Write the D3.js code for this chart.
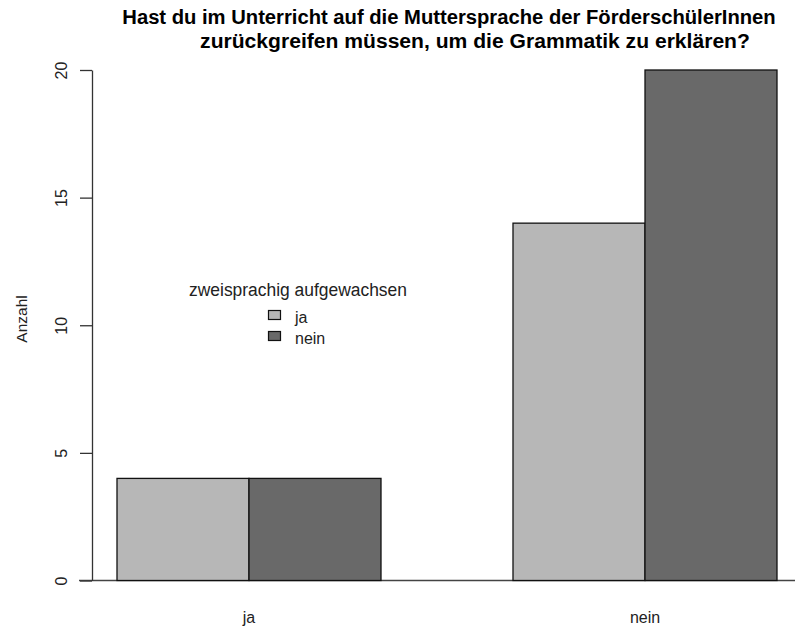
<!DOCTYPE html>
<html><head><meta charset="utf-8">
<script src="https://cdn.jsdelivr.net/npm/d3@7"></script>
<style>body{margin:0;background:#fff}svg{display:block}text{font-family:"Liberation Sans",Arial,sans-serif}</style>
</head><body>
<svg id="chart" width="795" height="631"></svg>
<script>
const categories = ["ja", "nein"];
const seriesNames = ["ja", "nein"];
const seriesColors = ["#b7b7b7", "#696969"];
const valuesJa = [4, 14];    // zweisprachig aufgewachsen: ja
const valuesNein = [4, 20];  // zweisprachig aufgewachsen: nein
const yTicks = [0, 5, 10, 15, 20];
const titleLines = ["Hast du im Unterricht auf die Muttersprache der FörderschülerInnen",
                    "zurückgreifen müssen, um die Grammatik zu erklären?"];
const yLabel = "Anzahl";
const legendTitle = "zweisprachig aufgewachsen";

const svg = d3.select("#chart");
const y = d3.scaleLinear().domain([0, 20]).range([580.5, 70]);
const x0 = d3.scaleBand().domain(categories).range([117, 777]).paddingInner(1/3).paddingOuter(0);
const x1 = d3.scaleBand().domain(seriesNames).range([0, x0.bandwidth()]);
const color = d3.scaleOrdinal().domain(seriesNames).range(seriesColors);

function fit(sel, w) {
  const n = sel.node();
  const fs = parseFloat(sel.attr("font-size"));
  const cur = n.getComputedTextLength();
  if (cur > 0) sel.attr("font-size", (fs * w / cur).toFixed(2));
}

// baseline
svg.append("line").attr("x1", 79).attr("x2", 795).attr("y1", y(0)).attr("y2", y(0))
  .attr("stroke", "#444").attr("stroke-width", 1.3);

// bars
const data = categories.map((c, i) => ({cat: c, vals: [{s: "ja", v: valuesJa[i]}, {s: "nein", v: valuesNein[i]}]}));
const g = svg.append("g");
g.selectAll("g").data(data).join("g")
  .attr("transform", d => `translate(${x0(d.cat)},0)`)
  .selectAll("rect").data(d => d.vals).join("rect")
  .attr("x", d => x1(d.s)).attr("width", x1.bandwidth())
  .attr("y", d => y(d.v)).attr("height", d => y(0) - y(d.v))
  .attr("fill", d => color(d.s)).attr("stroke", "#111").attr("stroke-width", 1.3);

// y axis
const ax = svg.append("g").attr("transform", "translate(92,0)")
  .call(d3.axisLeft(y).tickValues(yTicks).tickSize(12).tickSizeOuter(0).tickFormat(d3.format("d")));
ax.select(".domain").attr("stroke", "#333").attr("stroke-width", 1.3);
ax.selectAll(".tick line").attr("stroke", "#333").attr("stroke-width", 1.3);
ax.selectAll(".tick text").attr("font-size", 16).attr("fill", "#222")
  .attr("font-family", "Liberation Sans, Arial, sans-serif")
  .attr("text-anchor", "middle").attr("dy", 0)
  .attr("transform", "rotate(-90)").attr("x", 0).attr("y", -25);

// category labels
categories.forEach(c => {
  const t = svg.append("text").attr("x", x0(c) + x0.bandwidth() / 2).attr("y", 623)
    .attr("text-anchor", "middle").attr("font-size", 16).attr("fill", "#222").text(c);
});

// y label
svg.append("text").attr("transform", "translate(27,319) rotate(-90)")
  .attr("text-anchor", "middle").attr("font-size", 15.5).attr("fill", "#222").text(yLabel);

// title
const t1 = svg.append("text").attr("x", 449).attr("y", 24).attr("text-anchor", "middle")
  .attr("font-size", 16).attr("font-weight", "bold").attr("fill", "#000").text(titleLines[0]);
fit(t1, 654);
const t2 = svg.append("text").attr("x", 475).attr("y", 48).attr("text-anchor", "middle")
  .attr("font-size", 16).attr("font-weight", "bold").attr("fill", "#000").text(titleLines[1]);
fit(t2, 550);

// legend
const lt = svg.append("text").attr("x", 298).attr("y", 296).attr("text-anchor", "middle")
  .attr("font-size", 16).attr("fill", "#222").text(legendTitle);
fit(lt, 218);
seriesNames.forEach((s, i) => {
  const yy = 310 + i * 21;
  svg.append("rect").attr("x", 268.5).attr("y", yy + 0.5).attr("width", 12).attr("height", 9)
    .attr("fill", color(s)).attr("stroke", "#111").attr("stroke-width", 1.2);
  svg.append("text").attr("x", 295).attr("y", yy + 13).attr("font-size", 16).attr("fill", "#222").text(s);
});
</script>
</body></html>
